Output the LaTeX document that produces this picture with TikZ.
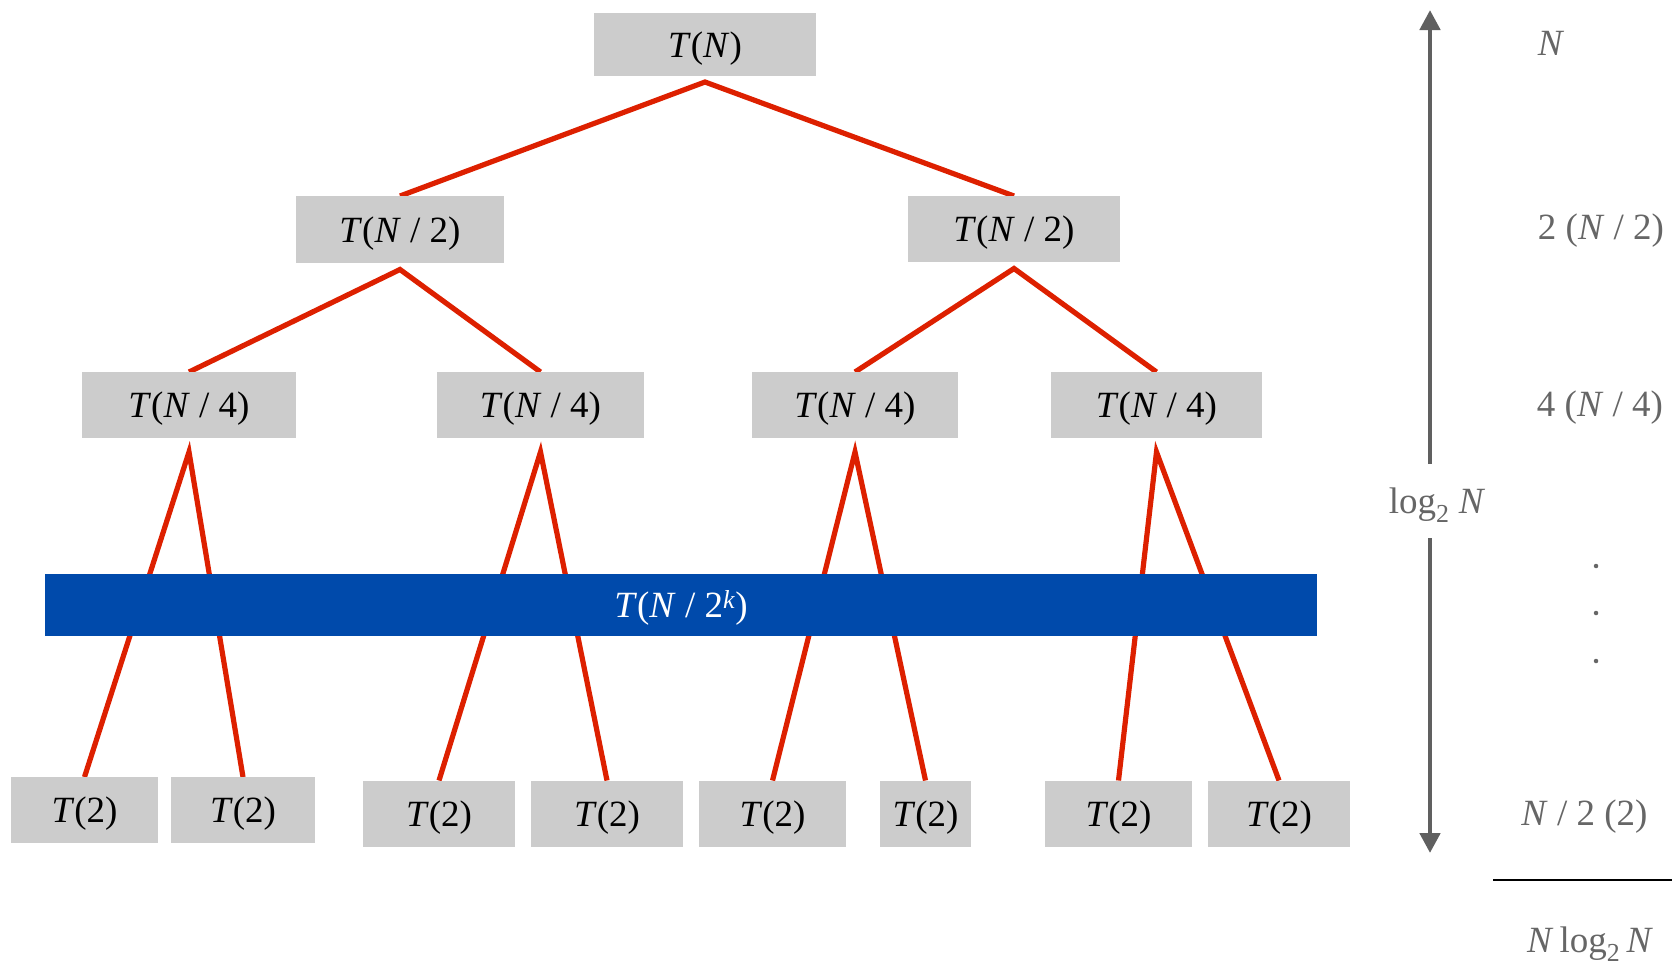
\documentclass[tikz,border=0pt]{standalone}
\usepackage{fontspec}
\setmainfont{Liberation Serif}
\usetikzlibrary{arrows.meta,backgrounds}

\definecolor{boxgray}{RGB}{204,204,204}
\definecolor{edgered}{RGB}{221,32,0}
\definecolor{barblue}{RGB}{0,74,171}
\definecolor{sidegray}{RGB}{102,102,102}
\definecolor{arrowgray}{RGB}{96,96,96}

\newcommand{\tT}{\textit{T}}
\newcommand{\nN}{\textit{N}}

\begin{document}
\begin{tikzpicture}[x=1pt,y=-1pt,
  every node/.style={font=\fontsize{37}{44}\selectfont, inner sep=0pt, outer sep=0pt},
  lowtext/.style={text height=31pt, text depth=5.6pt},
  cell/.style={fill=boxgray, minimum height=66pt, lowtext},
  edge/.style={draw=edgered, line width=5.2pt, line join=miter},
  side/.style={text=sidegray},
  dotmark/.style={circle, fill=sidegray, minimum size=4.5pt},
]
\useasboundingbox (0,0) rectangle (1672,964);

% recursion tree: root, halves, quarters
\node[cell, minimum width=222pt, minimum height=63pt] (root) at (705,44.5) {\tT(\nN)};
\node[cell, minimum width=208pt, minimum height=67pt] (h1) at (400,229.5) {\tT(\nN~/ 2)};
\node[cell, minimum width=212pt] (h2) at (1014,229) {\tT(\nN~/ 2)};
\node[cell, minimum width=214pt] (q1) at (189,405) {\tT(\nN~/ 4)};
\node[cell, minimum width=207pt] (q2) at (540.5,405) {\tT(\nN~/ 4)};
\node[cell, minimum width=206pt] (q3) at (855,405) {\tT(\nN~/ 4)};
\node[cell, minimum width=211pt] (q4) at (1156.5,405) {\tT(\nN~/ 4)};

% leaves
\node[cell, minimum width=147pt] (l1) at (84.5,810) {\tT(2)};
\node[cell, minimum width=144pt] (l2) at (243,810) {\tT(2)};
\node[cell, minimum width=152pt] (l3) at (439,813.5) {\tT(2)};
\node[cell, minimum width=152pt] (l4) at (607,813.5) {\tT(2)};
\node[cell, minimum width=147pt] (l5) at (772.5,813.5) {\tT(2)};
\node[cell, minimum width=91pt]  (l6) at (925.5,813.5) {\tT(2)};
\node[cell, minimum width=147pt] (l7) at (1118.5,813.5) {\tT(2)};
\node[cell, minimum width=142pt] (l8) at (1279,813.5) {\tT(2)};

% edges sit behind boxes and the level bar
\begin{scope}[on background layer]
  \draw[edge] (h1.north) -- ([yshift=-6pt]root.south) -- (h2.north);
  \draw[edge] (q1.north) -- ([yshift=-6.5pt]h1.south) -- (q2.north);
  \draw[edge] (q3.north) -- ([yshift=-6.5pt]h2.south) -- (q4.north);
  \draw[edge] (l1.north) -- ([yshift=-14pt]q1.south) -- (l2.north);
  \draw[edge] (l3.north) -- ([yshift=-14pt]q2.south) -- (l4.north);
  \draw[edge] (l5.north) -- ([yshift=-14pt]q3.south) -- (l6.north);
  \draw[edge] (l7.north) -- ([yshift=-14pt]q4.south) -- (l8.north);
\end{scope}

% level k bar
\node[fill=barblue, text=white, lowtext, minimum width=1272pt, minimum height=62pt] (bar) at (681,605)
  {\tT(\nN~/ 2\textsuperscript{\textit{k}})};

% depth arrow
\coordinate (upTip) at (1430,10);
\coordinate (dnTip) at (1430,853);
\node[side, lowtext, minimum height=74pt] (depth) at (1437,501) {log\textsubscript{2} \nN};
\draw[arrowgray, line width=4.7pt, -{Triangle[width=20pt,length=20pt]}]
  (upTip |- depth.north) -- (upTip);
\draw[arrowgray, line width=4.7pt, -{Triangle[width=20pt,length=20pt]}]
  (dnTip |- depth.south) -- (dnTip);

% cost per level
\node[side] (c0) at (1551,43.5) {\nN};
\node[side, lowtext] (c1) at (1601,227) {2 (\nN~/ 2)};
\node[side, lowtext] (c2) at (1600,404) {4 (\nN~/ 4)};
\node[dotmark] (dot1) at (1596,566) {};
\node[dotmark] (dot2) at (1596,613) {};
\node[dotmark] (dot3) at (1596,661) {};
\node[side, lowtext] (ck) at (1584.5,813) {\nN~/ 2 (2)};
\draw[black, line width=1.8pt] (1493,880) -- (1672,880);
\node[side, lowtext] (total) at (1590,940) {\nN\,log\textsubscript{2}\,\nN};
\end{tikzpicture}
\end{document}
